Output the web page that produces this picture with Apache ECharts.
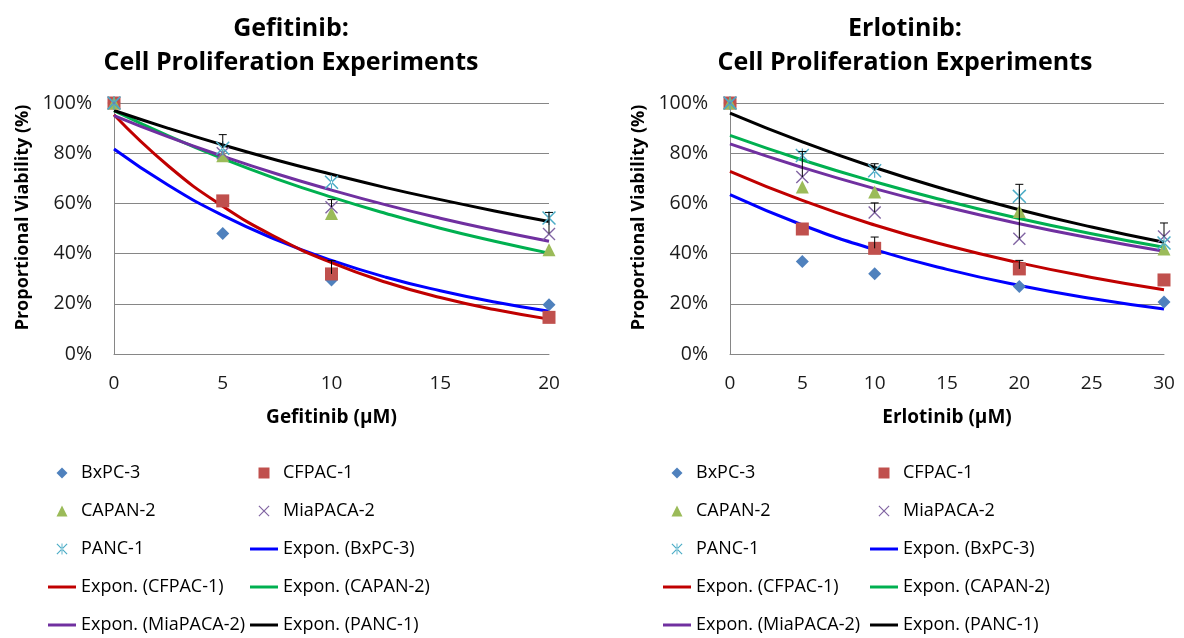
<!DOCTYPE html>
<html>
<head>
<meta charset="utf-8">
<script src="https://cdn.jsdelivr.net/npm/echarts@6/dist/echarts.min.js"></script>
<style>
  html, body { margin: 0; padding: 0; background: #fff; }
  #chart { width: 1184px; height: 638px; }
</style>
</head>
<body>
<div id="chart"></div>
<script>
// cell lines
var cellLines = ["BxPC-3", "CFPAC-1", "CAPAN-2", "MiaPACA-2", "PANC-1"];
var pointColors = ["#4F81BD", "#C0504D", "#9BBB59", "#8064A2", "#4BACC6"];
var fitColors = ["#0000FF", "#C00000", "#00B050", "#7030A0", "#000000"];
var yTicks = [0, 20, 40, 60, 80, 100];

// Gefitinib measurements (% viability)
var gefDose = [0, 5, 10, 20];
var gefBx = [100, 48, 29.5, 19.6];
var gefCf = [100, 61, 31.9, 14.6];
var gefCa = [100, 79, 56, 41.5];
var gefMia = [100, 80, 58.5, 47.8];
var gefPanc = [100, 82, 68.4, 54.2];

// Gefitinib exponential trend lines
var gefFitDose = [0, 2.5, 5, 7.5, 10, 12.5, 15, 17.5, 20];
var gefFitBx = [81.7, 67.2, 55.2, 45.4, 37.3, 30.6, 25.2, 20.7, 17.0];
var gefFitCf = [95.3, 74.9, 58.9, 46.3, 36.4, 28.6, 22.5, 17.7, 13.9];
var gefFitCa = [97, 86.9, 77.8, 69.7, 62.5, 56.0, 50.1, 44.9, 40.2];
var gefFitMia = [95, 86.5, 78.8, 71.7, 65.3, 59.4, 54.1, 49.3, 44.9];
var gefFitPanc = [97, 89.9, 83.3, 77.2, 71.6, 66.3, 61.5, 57.0, 52.8];

// Gefitinib error bars [dose, from, to]
var gefErr = [[5, 82, 87.4], [10, 58.5, 61.5], [10, 31.9, 37.2], [20, 48, 56.4]];

// Erlotinib measurements
var erlDose = [0, 5, 10, 20, 30];
var erlBx = [100, 36.9, 32, 26.9, 20.7];
var erlCf = [100, 49.8, 42.1, 33.9, 29.5];
var erlCa = [100, 66.5, 64.5, 56.8, 41.8];
var erlMia = [100, 70.5, 56.4, 45.9, 46.8];
var erlPanc = [100, 79.1, 73, 62.8, 44.2];

// Erlotinib trend lines
var erlFitDose = [0, 5, 10, 15, 20, 25, 30];
var erlFitBx = [63.5, 51.4, 41.6, 33.7, 27.3, 22.1, 17.9];
var erlFitCf = [72.8, 61.2, 51.4, 43.2, 36.3, 30.5, 25.6];
var erlFitCa = [87.1, 77.3, 68.6, 60.9, 54.0, 47.9, 42.5];
var erlFitMia = [83.7, 74.3, 65.9, 58.5, 51.9, 46.1, 40.9];
var erlFitPanc = [96, 84.5, 74.3, 65.4, 57.5, 50.6, 44.5];

var erlErr = [[5, 70.5, 80.7], [10, 73, 75.8], [10, 56.4, 60.2], [10, 42.1, 46.6],
              [20, 46, 67.6], [20, 33.9, 37.3], [30, 46.8, 52.2]];

var FONT = "Open Sans";
var xMark = "path://M0,1.5 L1.5,0 L10,8.5 L18.5,0 L20,1.5 L11.5,10 L20,18.5 L18.5,20 L10,11.5 L1.5,20 L0,18.5 L8.5,10 Z";
var starMark = "path://M0,1.5 L1.5,0 L10,8.5 L18.5,0 L20,1.5 L11.5,10 L20,18.5 L18.5,20 L10,11.5 L1.5,20 L0,18.5 L8.5,10 Z M9.2,0 L9.2,20 L10.8,20 L10.8,0 Z";
var symbols = ["diamond", "rect", "triangle", xMark, starMark];
var sizes = [13, 13, 13, 13, 14];
// legend icons as paths so they keep their aspect
var legendIcons = [
  "path://M10,0 L20,10 L10,20 L0,10 Z",
  "path://M0,0 L20,0 L20,20 L0,20 Z",
  "path://M10,0 L20,20 L0,20 Z",
  xMark, starMark
];
var lineIcon = "path://M0,0 L30,0 L30,3.2 L0,3.2 Z";

function zip(xs, ys) {
  return xs.map(function (x, i) { return [x, ys[i]]; });
}

function pointSeries(idx, dose, lists) {
  return lists.map(function (vals, i) {
    return {
      name: cellLines[i], type: "scatter", xAxisIndex: idx, yAxisIndex: idx,
      symbol: symbols[i], symbolSize: sizes[i], z: 4,
      itemStyle: { color: pointColors[i], opacity: 1 },
      data: zip(dose, vals)
    };
  });
}

function fitSeries(idx, dose, lists) {
  return lists.map(function (vals, i) {
    return {
      name: "Expon. (" + cellLines[i] + ")", type: "line", xAxisIndex: idx, yAxisIndex: idx,
      smooth: true, symbol: "none", z: 3,
      lineStyle: { color: fitColors[i], width: 3 },
      itemStyle: { color: fitColors[i] },
      data: zip(dose, vals)
    };
  });
}

function errSeries(idx, data) {
  return {
    type: "custom", xAxisIndex: idx, yAxisIndex: idx, z: 5,
    renderItem: function (params, api) {
      var x = api.value(0);
      var p1 = api.coord([x, api.value(1)]);
      var p2 = api.coord([x, api.value(2)]);
      var st = { stroke: "#000", lineWidth: 1 };
      return {
        type: "group",
        children: [
          { type: "line", shape: { x1: p1[0], y1: p1[1], x2: p2[0], y2: p2[1] }, style: st },
          { type: "line", shape: { x1: p2[0] - 4, y1: p2[1], x2: p2[0] + 4, y2: p2[1] }, style: st }
        ]
      };
    },
    encode: { x: 0, y: [1, 2] },
    data: data
  };
}

function xAxis(idx, max, name) {
  return {
    gridIndex: idx, type: "value", min: 0, max: max, interval: 5,
    name: name, nameLocation: "middle", nameGap: 54,
    nameTextStyle: { fontFamily: FONT, fontSize: 19, fontWeight: "bold", color: "#000" },
    axisLine: { lineStyle: { color: "#868686", width: 1 } },
    axisTick: { show: false },
    axisLabel: { fontFamily: FONT, fontSize: 19, color: "#1a1a1a", margin: 20 },
    splitLine: { show: false }
  };
}

function yAxis(idx) {
  return {
    gridIndex: idx, type: "value", min: yTicks[0], max: yTicks[yTicks.length - 1], interval: 20,
    name: "Proportional Viability (%)", nameLocation: "middle", nameGap: 82, nameRotate: 90,
    nameTextStyle: { fontFamily: FONT, fontSize: 18, fontWeight: "bold", color: "#000", padding: [0, 0, 0, 22] },
    axisLine: { show: true, lineStyle: { color: "#868686", width: 1 } },
    axisTick: { show: false },
    axisLabel: { fontFamily: FONT, fontSize: 19.5, color: "#1a1a1a", margin: 22, formatter: "{value}%" },
    splitLine: { lineStyle: { color: "#868686", width: 1 } }
  };
}

function legendItem(name) {
  var i = cellLines.indexOf(name);
  if (i >= 0) return { name: name, icon: legendIcons[i] };
  return { name: name, icon: lineIcon };
}

function legendCol(left, names) {
  return {
    orient: "vertical", left: left, top: 463, padding: 0,
    itemWidth: 28, itemHeight: 11, itemGap: 18, selectedMode: false,
    textStyle: { fontFamily: FONT, fontSize: 18, color: "#000", lineHeight: 20 },
    data: names.map(legendItem)
  };
}

var col1 = ["BxPC-3", "CAPAN-2", "PANC-1", "Expon. (CFPAC-1)", "Expon. (MiaPACA-2)"];
var col2 = ["CFPAC-1", "MiaPACA-2", "Expon. (BxPC-3)", "Expon. (CAPAN-2)", "Expon. (PANC-1)"];

var chart = echarts.init(document.getElementById("chart"), null, { renderer: "canvas" });

var titleStyle = { fontFamily: FONT, fontSize: 25, fontWeight: "bold", color: "#000", lineHeight: 34 };

var option = {
  animation: false,
  backgroundColor: "#fff",
  title: [
    { text: "Gefitinib:\nCell Proliferation Experiments", left: 286, top: 7, textAlign: "center", textStyle: titleStyle },
    { text: "Erlotinib:\nCell Proliferation Experiments", left: 900, top: 7, textAlign: "center", textStyle: titleStyle }
  ],
  grid: [
    { left: 114, top: 103, width: 435, height: 251 },
    { left: 730, top: 103, width: 434, height: 251 }
  ],
  xAxis: [xAxis(0, 20, "Gefitinib (μM)"), xAxis(1, 30, "Erlotinib (μM)")],
  yAxis: [yAxis(0), yAxis(1)],
  legend: [legendCol(48, col1), legendCol(250, col2), legendCol(663, col1), legendCol(870, col2)],
  series: []
      .concat(fitSeries(0, gefFitDose, [gefFitBx, gefFitCf, gefFitCa, gefFitMia, gefFitPanc]))
      .concat(pointSeries(0, gefDose, [gefBx, gefCf, gefCa, gefMia, gefPanc]))
      .concat([errSeries(0, gefErr)])
      .concat(fitSeries(1, erlFitDose, [erlFitBx, erlFitCf, erlFitCa, erlFitMia, erlFitPanc]))
      .concat(pointSeries(1, erlDose, [erlBx, erlCf, erlCa, erlMia, erlPanc]))
      .concat([errSeries(1, erlErr)])
};

chart.setOption(option);
</script>
</body>
</html>
